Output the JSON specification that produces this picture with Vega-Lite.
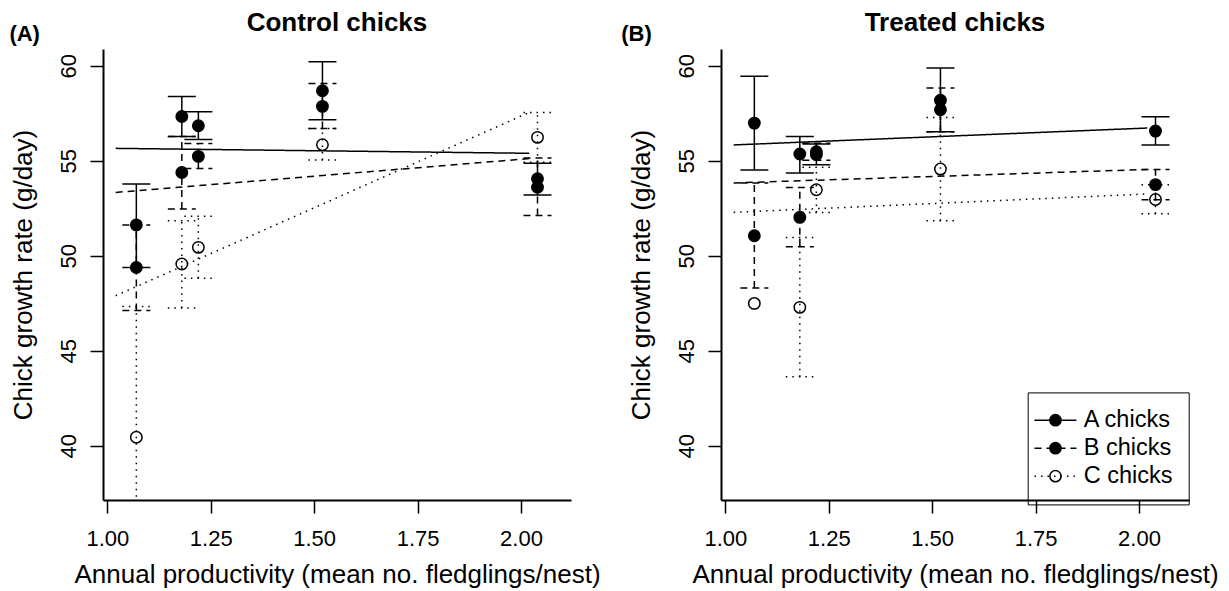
{
  "$schema": "https://vega.github.io/schema/vega-lite/v6.json",
  "padding": {"left": 9, "top": 9, "right": 5, "bottom": 5},
  "background": "white",
  "bounds": "flush",
  "spacing": 150,
  "config": {
    "font": "Liberation Sans",
    "view": {"stroke": null},
    "axis": {"grid": false, "domainColor": "black", "domainWidth": 2, "tickColor": "black", "tickWidth": 1.5, "tickSize": 13, "labelFontSize": 22, "labelColor": "black", "labelFont": "Liberation Sans", "titleFont": "Liberation Sans", "titleFontSize": 26, "titleFontWeight": "normal", "titleColor": "black"},
    "axisX": {"labelPadding": 15, "titlePadding": 12},
    "axisY": {"titlePadding": 21}
  },
  "datasets": {
    "pts": [
      {"panel": "Control", "group": "A chicks", "x": 1.07, "mean": 51.62, "lo": 49.38, "hi": 53.77},
      {"panel": "Control", "group": "A chicks", "x": 1.18, "mean": 57.33, "lo": 56.28, "hi": 58.38},
      {"panel": "Control", "group": "A chicks", "x": 1.22, "mean": 56.84, "lo": 56.11, "hi": 57.58},
      {"panel": "Control", "group": "A chicks", "x": 1.52, "mean": 58.68, "lo": 57.16, "hi": 60.21},
      {"panel": "Control", "group": "A chicks", "x": 2.04, "mean": 54.05, "lo": 53.19, "hi": 54.86},
      {"panel": "Control", "group": "B chicks", "x": 1.07, "mean": 49.38, "lo": 47.11, "hi": 51.62},
      {"panel": "Control", "group": "B chicks", "x": 1.18, "mean": 54.38, "lo": 52.46, "hi": 56.28},
      {"panel": "Control", "group": "B chicks", "x": 1.22, "mean": 55.23, "lo": 54.59, "hi": 55.91},
      {"panel": "Control", "group": "B chicks", "x": 1.52, "mean": 57.86, "lo": 56.7, "hi": 59.07},
      {"panel": "Control", "group": "B chicks", "x": 2.04, "mean": 53.6, "lo": 52.11, "hi": 55.14},
      {"panel": "Control", "group": "C chicks", "x": 1.07, "mean": 40.44, "lo": 33.55, "hi": 47.33},
      {"panel": "Control", "group": "C chicks", "x": 1.18, "mean": 49.56, "lo": 47.25, "hi": 51.84},
      {"panel": "Control", "group": "C chicks", "x": 1.22, "mean": 50.44, "lo": 48.81, "hi": 52.07},
      {"panel": "Control", "group": "C chicks", "x": 1.52, "mean": 55.84, "lo": 55.04, "hi": 56.7},
      {"panel": "Control", "group": "C chicks", "x": 2.04, "mean": 56.23, "lo": 54.92, "hi": 57.54},
      {"panel": "Treated", "group": "A chicks", "x": 1.07, "mean": 56.98, "lo": 54.51, "hi": 59.44},
      {"panel": "Treated", "group": "A chicks", "x": 1.18, "mean": 55.35, "lo": 54.35, "hi": 56.28},
      {"panel": "Treated", "group": "A chicks", "x": 1.22, "mean": 55.32, "lo": 54.79, "hi": 55.88},
      {"panel": "Treated", "group": "A chicks", "x": 1.52, "mean": 58.18, "lo": 56.53, "hi": 59.88},
      {"panel": "Treated", "group": "A chicks", "x": 2.04, "mean": 56.56, "lo": 55.83, "hi": 57.32},
      {"panel": "Treated", "group": "B chicks", "x": 1.07, "mean": 51.05, "lo": 48.3, "hi": 53.83},
      {"panel": "Treated", "group": "B chicks", "x": 1.18, "mean": 52.02, "lo": 50.47, "hi": 53.59},
      {"panel": "Treated", "group": "B chicks", "x": 1.22, "mean": 55.47, "lo": 55.02, "hi": 55.92},
      {"panel": "Treated", "group": "B chicks", "x": 1.52, "mean": 57.68, "lo": 56.53, "hi": 58.83},
      {"panel": "Treated", "group": "B chicks", "x": 2.04, "mean": 53.74, "lo": 52.94, "hi": 54.54},
      {"panel": "Treated", "group": "C chicks", "x": 1.07, "mean": 47.49, "lo": null, "hi": null},
      {"panel": "Treated", "group": "C chicks", "x": 1.18, "mean": 47.28, "lo": 43.63, "hi": 50.96},
      {"panel": "Treated", "group": "C chicks", "x": 1.22, "mean": 53.47, "lo": 52.28, "hi": 54.65},
      {"panel": "Treated", "group": "C chicks", "x": 1.52, "mean": 54.56, "lo": 51.84, "hi": 57.28},
      {"panel": "Treated", "group": "C chicks", "x": 2.04, "mean": 52.96, "lo": 52.21, "hi": 53.74}
    ],
    "fits": [
      {"panel": "Control", "group": "A chicks", "x1": 1.02, "y1": 55.65, "x2": 2.02, "y2": 55.39},
      {"panel": "Control", "group": "B chicks", "x1": 1.02, "y1": 53.33, "x2": 2.02, "y2": 55.11},
      {"panel": "Control", "group": "C chicks", "x1": 1.02, "y1": 47.89, "x2": 2.02, "y2": 57.54},
      {"panel": "Treated", "group": "A chicks", "x1": 1.02, "y1": 55.83, "x2": 2.02, "y2": 56.72},
      {"panel": "Treated", "group": "B chicks", "x1": 1.02, "y1": 53.83, "x2": 2.02, "y2": 54.54},
      {"panel": "Treated", "group": "C chicks", "x1": 1.02, "y1": 52.28, "x2": 2.02, "y2": 53.25}
    ],
    "tags": [
      {"panel": "Control", "tag": "(A)", "tx": 0.80, "ty": 61.66},
      {"panel": "Treated", "tag": "(B)", "tx": 0.785, "ty": 61.66}
    ],
    "heads": [
      {"panel": "Control", "head": "Control chicks", "tx": 1.5552, "ty": 62.26},
      {"panel": "Treated", "head": "Treated chicks", "tx": 1.5552, "ty": 62.26}
    ]
  },
  "hconcat": [
    {
      "width": 468, "height": 451,
      "layer": [
        {
          "data": {"name": "fits"},
          "transform": [{"filter": "datum.panel === 'Control'"}],
          "mark": {"type": "rule", "color": "black", "strokeWidth": 1.5},
          "encoding": {
            "x": {"field": "x1", "type": "quantitative", "title": "Annual productivity (mean no. fledglings/nest)", "scale": {"domain": [0.9894, 2.121], "nice": false, "zero": false}, "axis": {"title": "Annual productivity (mean no. fledglings/nest)", "values": [1, 1.25, 1.5, 1.75, 2], "format": ".2f"}},
            "x2": {"field": "x2"},
            "y": {"field": "y1", "type": "quantitative", "title": "Chick growth rate (g/day)", "scale": {"domain": [37.14, 60.88], "nice": false, "zero": false}, "axis": {"title": "Chick growth rate (g/day)", "values": [40, 45, 50, 55, 60], "labelAngle": -90, "labelAlign": "center", "labelBaseline": "bottom", "labelPadding": 10}},
            "y2": {"field": "y2"},
            "strokeDash": {"field": "group", "type": "nominal", "scale": {"range": [[1, 0], [7, 5], [1.5, 5]]},
              "legend": {"orient": "none", "legendX": 924.7, "legendY": 343.4, "title": null, "strokeColor": "black", "padding": 16, "symbolType": "M-2,0L2,0", "symbolSize": 441, "symbolStrokeWidth": 1.5, "symbolStrokeColor": "black", "symbolFillColor": "transparent", "labelFontSize": 23.5, "labelFont": "Liberation Sans", "labelColor": "black", "labelOffset": 16.5, "rowPadding": 3}}
          }
        },
        {
          "data": {"name": "pts"},
          "transform": [{"filter": "datum.panel === 'Control'"}],
          "mark": {"type": "rule", "color": "black", "strokeWidth": 1.5, "clip": true},
          "encoding": {
            "x": {"field": "x", "type": "quantitative", "title": "Annual productivity (mean no. fledglings/nest)"},
            "y": {"field": "lo", "type": "quantitative", "title": "Chick growth rate (g/day)"},
            "y2": {"field": "hi"},
            "strokeDash": {"field": "group", "type": "nominal"}
          }
        },
        {
          "data": {"name": "pts"},
          "transform": [{"filter": "datum.panel === 'Control'"}],
          "mark": {"type": "rule", "color": "black", "strokeWidth": 1.5, "clip": true, "xOffset": -14, "x2Offset": 14},
          "encoding": {
            "x": {"field": "x", "type": "quantitative", "title": "Annual productivity (mean no. fledglings/nest)"},
            "x2": {"field": "x"},
            "y": {"field": "hi", "type": "quantitative", "title": "Chick growth rate (g/day)"},
            "strokeDash": {"field": "group", "type": "nominal"}
          }
        },
        {
          "data": {"name": "pts"},
          "transform": [{"filter": "datum.panel === 'Control'"}],
          "mark": {"type": "rule", "color": "black", "strokeWidth": 1.5, "clip": true, "xOffset": -14, "x2Offset": 14},
          "encoding": {
            "x": {"field": "x", "type": "quantitative", "title": "Annual productivity (mean no. fledglings/nest)"},
            "x2": {"field": "x"},
            "y": {"field": "lo", "type": "quantitative", "title": "Chick growth rate (g/day)"},
            "strokeDash": {"field": "group", "type": "nominal"}
          }
        },
        {
          "data": {"name": "pts"},
          "transform": [{"filter": "datum.panel === 'Control'"}],
          "mark": {"type": "point", "shape": "circle", "filled": true, "size": 130, "stroke": "black", "strokeWidth": 1.5, "opacity": 1},
          "encoding": {
            "x": {"field": "x", "type": "quantitative", "title": "Annual productivity (mean no. fledglings/nest)"},
            "y": {"field": "mean", "type": "quantitative", "title": "Chick growth rate (g/day)"},
            "fill": {"field": "group", "type": "nominal", "scale": {"domain": ["A chicks", "B chicks", "C chicks"], "range": ["black", "black", "transparent"]},
              "legend": {"orient": "none", "legendX": 940.7, "legendY": 359.4, "title": null, "padding": 0, "symbolType": "circle", "symbolSize": 125, "symbolStrokeWidth": 1.5, "symbolStrokeColor": "black", "labelFontSize": 23.5, "labelExpr": "''", "rowPadding": 3}}
          }
        },
        {
          "data": {"name": "tags"},
          "transform": [{"filter": "datum.panel === 'Control'"}],
          "mark": {"type": "text", "font": "Liberation Sans", "fontSize": 22, "fontWeight": "bold", "color": "black", "align": "center", "baseline": "middle"},
          "encoding": {
            "x": {"field": "tx", "type": "quantitative", "title": "Annual productivity (mean no. fledglings/nest)"},
            "y": {"field": "ty", "type": "quantitative", "title": "Chick growth rate (g/day)"},
            "text": {"field": "tag"}
          }
        },
        {
          "data": {"name": "heads"},
          "transform": [{"filter": "datum.panel === 'Control'"}],
          "mark": {"type": "text", "font": "Liberation Sans", "fontSize": 26, "fontWeight": "bold", "color": "black", "align": "center", "baseline": "middle"},
          "encoding": {
            "x": {"field": "tx", "type": "quantitative", "title": "Annual productivity (mean no. fledglings/nest)"},
            "y": {"field": "ty", "type": "quantitative", "title": "Chick growth rate (g/day)"},
            "text": {"field": "head"}
          }
        }
      ]
    },
    {
      "width": 468, "height": 451,
      "layer": [
        {
          "data": {"name": "fits"},
          "transform": [{"filter": "datum.panel === 'Treated'"}],
          "mark": {"type": "rule", "color": "black", "strokeWidth": 1.5},
          "encoding": {
            "x": {"field": "x1", "type": "quantitative", "title": "Annual productivity (mean no. fledglings/nest)", "scale": {"domain": [0.9894, 2.121], "nice": false, "zero": false}, "axis": {"title": "Annual productivity (mean no. fledglings/nest)", "values": [1, 1.25, 1.5, 1.75, 2], "format": ".2f"}},
            "x2": {"field": "x2"},
            "y": {"field": "y1", "type": "quantitative", "title": "Chick growth rate (g/day)", "scale": {"domain": [37.14, 60.88], "nice": false, "zero": false}, "axis": {"title": "Chick growth rate (g/day)", "values": [40, 45, 50, 55, 60], "labelAngle": -90, "labelAlign": "center", "labelBaseline": "bottom", "labelPadding": 10}},
            "y2": {"field": "y2"},
            "strokeDash": {"field": "group", "type": "nominal"}
          }
        },
        {
          "data": {"name": "pts"},
          "transform": [{"filter": "datum.panel === 'Treated'"}],
          "mark": {"type": "rule", "color": "black", "strokeWidth": 1.5, "clip": true},
          "encoding": {
            "x": {"field": "x", "type": "quantitative", "title": "Annual productivity (mean no. fledglings/nest)"},
            "y": {"field": "lo", "type": "quantitative", "title": "Chick growth rate (g/day)"},
            "y2": {"field": "hi"},
            "strokeDash": {"field": "group", "type": "nominal"}
          }
        },
        {
          "data": {"name": "pts"},
          "transform": [{"filter": "datum.panel === 'Treated'"}],
          "mark": {"type": "rule", "color": "black", "strokeWidth": 1.5, "clip": true, "xOffset": -14, "x2Offset": 14},
          "encoding": {
            "x": {"field": "x", "type": "quantitative", "title": "Annual productivity (mean no. fledglings/nest)"},
            "x2": {"field": "x"},
            "y": {"field": "hi", "type": "quantitative", "title": "Chick growth rate (g/day)"},
            "strokeDash": {"field": "group", "type": "nominal"}
          }
        },
        {
          "data": {"name": "pts"},
          "transform": [{"filter": "datum.panel === 'Treated'"}],
          "mark": {"type": "rule", "color": "black", "strokeWidth": 1.5, "clip": true, "xOffset": -14, "x2Offset": 14},
          "encoding": {
            "x": {"field": "x", "type": "quantitative", "title": "Annual productivity (mean no. fledglings/nest)"},
            "x2": {"field": "x"},
            "y": {"field": "lo", "type": "quantitative", "title": "Chick growth rate (g/day)"},
            "strokeDash": {"field": "group", "type": "nominal"}
          }
        },
        {
          "data": {"name": "pts"},
          "transform": [{"filter": "datum.panel === 'Treated'"}],
          "mark": {"type": "point", "shape": "circle", "filled": true, "size": 130, "stroke": "black", "strokeWidth": 1.5, "opacity": 1},
          "encoding": {
            "x": {"field": "x", "type": "quantitative", "title": "Annual productivity (mean no. fledglings/nest)"},
            "y": {"field": "mean", "type": "quantitative", "title": "Chick growth rate (g/day)"},
            "fill": {"field": "group", "type": "nominal"}
          }
        },
        {
          "data": {"name": "tags"},
          "transform": [{"filter": "datum.panel === 'Treated'"}],
          "mark": {"type": "text", "font": "Liberation Sans", "fontSize": 22, "fontWeight": "bold", "color": "black", "align": "center", "baseline": "middle"},
          "encoding": {
            "x": {"field": "tx", "type": "quantitative", "title": "Annual productivity (mean no. fledglings/nest)"},
            "y": {"field": "ty", "type": "quantitative", "title": "Chick growth rate (g/day)"},
            "text": {"field": "tag"}
          }
        },
        {
          "data": {"name": "heads"},
          "transform": [{"filter": "datum.panel === 'Treated'"}],
          "mark": {"type": "text", "font": "Liberation Sans", "fontSize": 26, "fontWeight": "bold", "color": "black", "align": "center", "baseline": "middle"},
          "encoding": {
            "x": {"field": "tx", "type": "quantitative", "title": "Annual productivity (mean no. fledglings/nest)"},
            "y": {"field": "ty", "type": "quantitative", "title": "Chick growth rate (g/day)"},
            "text": {"field": "head"}
          }
        }
      ]
    }
  ],
  "resolve": {"scale": {"strokeDash": "shared", "fill": "shared"}, "legend": {"strokeDash": "shared", "fill": "shared"}}
}
